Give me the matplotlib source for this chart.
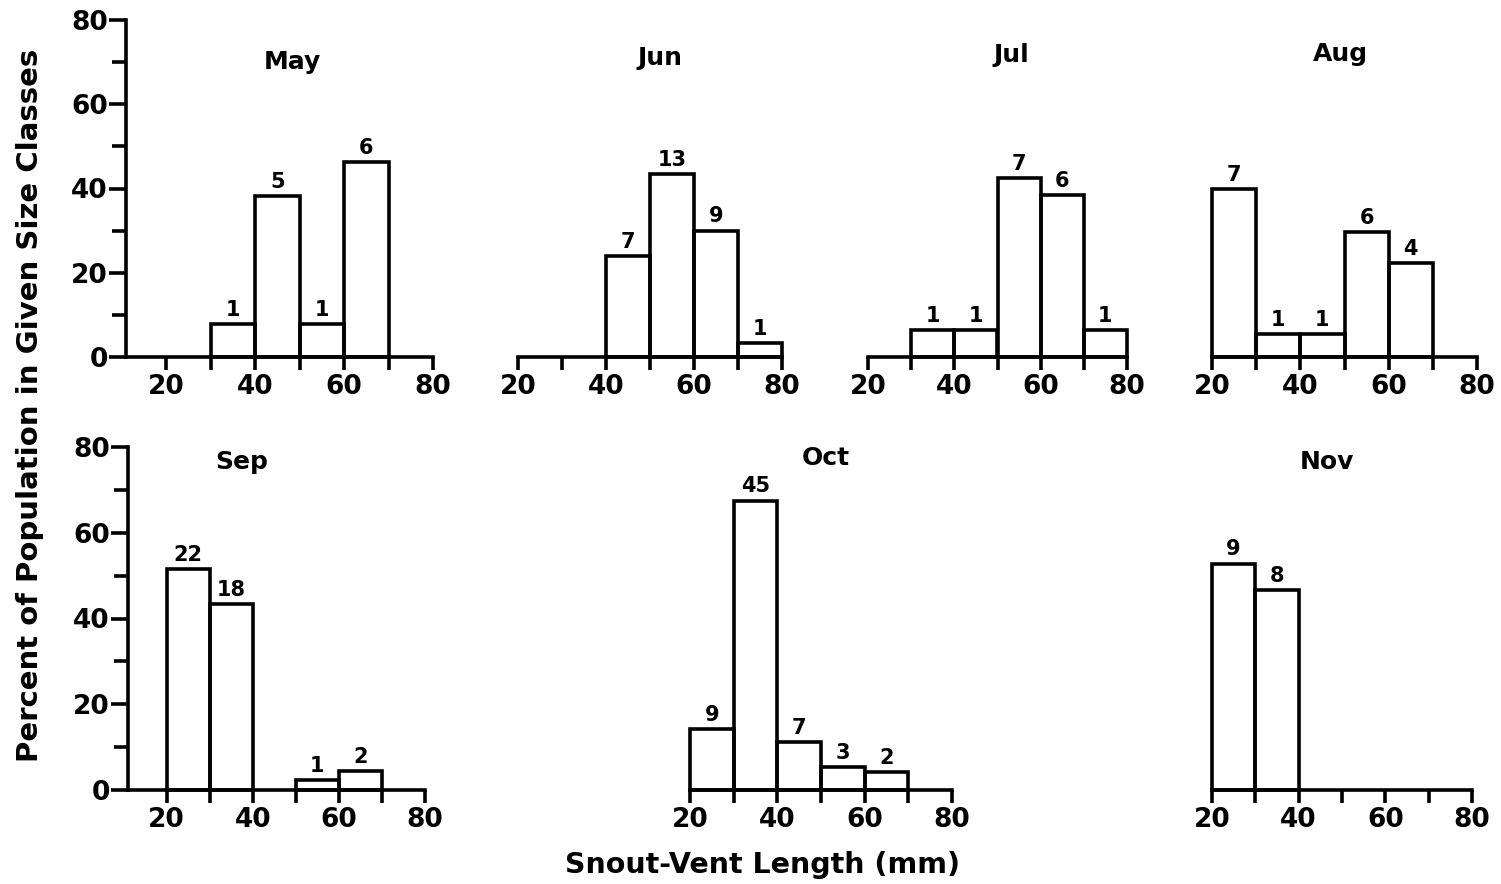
#!/usr/bin/env python3
"""Monthly size-class histograms (snout-vent length)."""

import matplotlib
matplotlib.use("Agg")
import matplotlib.pyplot as plt

plt.rcParams["font.family"] = ["DejaVu Sans"]
plt.rcParams["font.weight"] = "bold"

W, H = 1501, 884

MONTHS = ["May", "Jun", "Jul", "Aug", "Sep", "Oct", "Nov"]

# left edge of each 10 mm size class
MAY_BINS = [30, 40, 50, 60]
MAY_PCT = [7.8, 38.2, 7.8, 46.2]
MAY_N = [1, 5, 1, 6]

JUN_BINS = [40, 50, 60, 70]
JUN_PCT = [24.0, 43.5, 30.0, 3.3]
JUN_N = [7, 13, 9, 1]

JUL_BINS = [30, 40, 50, 60, 70]
JUL_PCT = [6.3, 6.3, 42.5, 38.5, 6.3]
JUL_N = [1, 1, 7, 6, 1]

AUG_BINS = [20, 30, 40, 50, 60]
AUG_PCT = [39.8, 5.4, 5.4, 29.7, 22.2]
AUG_N = [7, 1, 1, 6, 4]

SEP_BINS = [20, 30, 50, 60]
SEP_PCT = [51.5, 43.4, 2.3, 4.4]
SEP_N = [22, 18, 1, 2]

OCT_BINS = [20, 30, 40, 50, 60]
OCT_PCT = [14.2, 67.5, 11.2, 5.3, 4.2]
OCT_N = [9, 45, 7, 3, 2]

NOV_BINS = [20, 30]
NOV_PCT = [52.8, 46.6]
NOV_N = [9, 8]

DATA = {
    "May": (MAY_BINS, MAY_PCT, MAY_N),
    "Jun": (JUN_BINS, JUN_PCT, JUN_N),
    "Jul": (JUL_BINS, JUL_PCT, JUL_N),
    "Aug": (AUG_BINS, AUG_PCT, AUG_N),
    "Sep": (SEP_BINS, SEP_PCT, SEP_N),
    "Oct": (OCT_BINS, OCT_PCT, OCT_N),
    "Nov": (NOV_BINS, NOV_PCT, NOV_N),
}

# panel layout in pixels: left, baseline y, width, height, xmin, title pos
LAYOUT = {
    "May": (126, 357, 307, 337, 11, (48.5, 70.0)),
    "Jun": (518, 357, 264, 337, 20, (52.3, 71.0)),
    "Jul": (868, 357, 259, 337, 20, (53.3, 71.8)),
    "Aug": (1212, 357, 265, 337, 20, (49.0, 72.0)),
    "Sep": (128, 790, 297, 343, 11, (37.4, 76.5)),
    "Oct": (690, 790, 262, 343, 20, (51.1, 77.4)),
    "Nov": (1212, 790, 260, 343, 20, (46.6, 76.5)),
}
WITH_Y_AXIS = {"May", "Sep"}
LW = 2.6


def draw_panel(fig, month):
    left, base, width, height, xmin, title_xy = LAYOUT[month]
    bins, pct, counts = DATA[month]
    ax = fig.add_axes([left / W, (H - base) / H, width / W, height / H])
    ax.set_xlim(xmin, 80)
    ax.set_ylim(0, 80)
    ax.patch.set_visible(False)
    for side in ("top", "right"):
        ax.spines[side].set_visible(False)
    ax.spines["bottom"].set_linewidth(LW)
    ax.spines["bottom"].set_capstyle("projecting")

    bars = ax.bar(bins, pct, width=10, align="edge", fill=False,
                  edgecolor="black", linewidth=LW, clip_on=False)
    for bar in bars:
        bar.set_joinstyle("miter")
    for x, y, n in zip(bins, pct, counts):
        ax.annotate(str(n), (x + 5, y), xytext=(0, 3),
                    textcoords="offset points", ha="center", va="bottom",
                    fontsize=15, fontweight="bold")

    ax.set_xticks([20, 40, 60, 80])
    ax.set_xticks([30, 50, 70], minor=True)
    ax.tick_params(axis="x", which="both", direction="out", length=9,
                   width=LW, labelsize=19, pad=3)
    if month in WITH_Y_AXIS:
        ax.spines["left"].set_linewidth(LW)
        ax.set_yticks([0, 20, 40, 60, 80])
        ax.set_yticks([10, 30, 50, 70], minor=True)
        ax.tick_params(axis="y", which="major", direction="out", length=12,
                       width=LW, labelsize=19, pad=1)
        ax.tick_params(axis="y", which="minor", direction="out", length=10,
                       width=LW)
    else:
        ax.spines["left"].set_visible(False)
        ax.set_yticks([])
    ax.text(title_xy[0], title_xy[1], month, ha="center", va="center",
            fontsize=18, fontweight="bold")
    return ax


def main():
    fig = plt.figure(figsize=(W / 100, H / 100), dpi=100)
    for month in MONTHS:
        draw_panel(fig, month)
    fig.text(30 / W, 1 - 405 / H, "Percent of Population in Given Size Classes",
             rotation=90, ha="center", va="center", fontsize=21,
             fontweight="bold")
    fig.text(763 / W, 1 - 865 / H, "Snout-Vent Length (mm)", ha="center",
             va="center", fontsize=20.5, fontweight="bold")
    fig.savefig("out.png", dpi=100)
    plt.close(fig)


if __name__ == "__main__":
    main()
